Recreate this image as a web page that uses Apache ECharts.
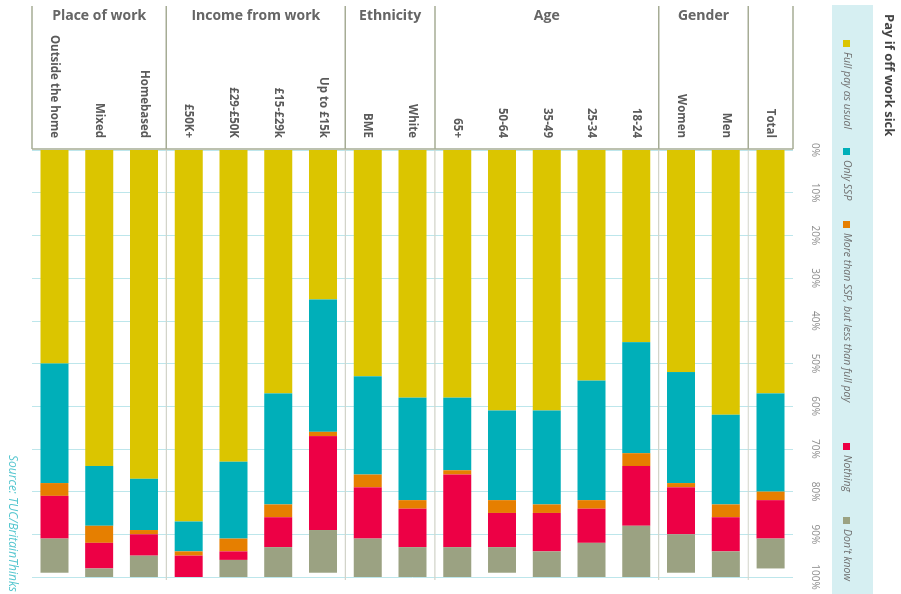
<!DOCTYPE html>
<html lang="en">
<head>
    <meta charset="UTF-8">
    <title>Pay if off work sick</title>
    <script src="https://cdn.jsdelivr.net/npm/echarts@6/dist/echarts.min.js"></script>
    <style>
        html,body{margin:0;padding:0;width:901px;height:594px;overflow:hidden;background:#fff}
        /* the chart is laid out upright (594 x 901) and turned a quarter clockwise */
        #pay{position:absolute;left:0;top:0;width:594px;height:901px;transform-origin:0 0;transform:translate(901px,0) rotate(90deg)}
    </style>
</head>
<body>
    <div id="pay"></div>
    <script>
        // categories from top (Total) to bottom (Outside the home) of the upright chart
        var categories = ['Total','Men','Women','18-24','25-34','35-49','50-64','65+','White','BME',
            'Up to £15k','£15-£29k','£29-£50K','£50K+','Homebased','Mixed','Outside the home'];
        var fullPay     = [57, 62, 52, 45, 54, 61, 61, 58, 58, 53, 35, 57, 73, 87, 77, 74, 50];
        var onlySSP     = [23, 21, 26, 26, 28, 22, 21, 17, 24, 23, 31, 26, 18,  7, 12, 14, 28];
        var moreThanSSP = [ 2,  3,  1,  3,  2,  2,  3,  1,  2,  3,  1,  3,  3,  1,  1,  4,  3];
        var nothing     = [ 9,  8, 11, 14,  8,  9,  8, 17,  9, 12, 22,  7,  2,  5,  5,  6, 10];
        var dontKnow    = [ 7,  6,  9, 12,  8,  6,  6,  7,  7,  9, 10,  7,  4,  0,  5,  2,  8];
        var seriesNames = ['Full pay as usual','Only SSP','More than SSP, but less than full pay','Nothing',"Don't know"];
        var seriesData  = [fullPay, onlySSP, moreThanSSP, nothing, dontKnow];
        var colors      = ['#dbc500','#00afb9','#e67f00','#ed0045','#9ba282'];

        var groupNames = ['Gender','Age','Ethnicity','Income from work','Place of work'];
        var groupFirst = [1, 3, 8, 10, 14];
        var groupLast  = [2, 7, 9, 13, 16];

        var font = "'Open Sans', sans-serif";
        var legendLeft = [35, 143, 216, 438, 512];

        var mychart = echarts.init(document.getElementById('pay'));

        var series = [];
        var legends = [];
        for (var i = 0; i < seriesNames.length; i++) {
            series.push({
                name: seriesNames[i],
                type: 'bar',
                stack: 'pay',
                barWidth: 28,
                data: seriesData[i],
                itemStyle: {color: colors[i]},
                emphasis: {disabled: true}
            });
            legends.push({
                data: [seriesNames[i]],
                left: legendLeft[i],
                top: 44,
                itemWidth: 7,
                itemHeight: 7,
                itemGap: 0,
                icon: 'rect',
                selectedMode: false,
                textStyle: {fontSize: 10.5, fontStyle: 'italic', color: '#6f6f6f', fontFamily: font}
            });
        }

        var option = {
            animation: false,
            textStyle: {fontFamily: font},
            title: {
                text: 'Pay if off work sick',
                left: 9,
                top: 1,
                textStyle: {fontSize: 13, fontWeight: 'bold', color: '#444', fontFamily: font}
            },
            legend: legends,
            grid: {left: 150, right: 17, top: 108, bottom: 32, containLabel: false},
            xAxis: {
                type: 'value',
                position: 'top',
                min: 0,
                max: 100,
                interval: 10,
                axisLine: {show: false},
                axisTick: {show: false},
                axisLabel: {formatter: '{value}%', fontSize: 10, color: '#8c8c8c', margin: 17},
                splitLine: {lineStyle: {color: '#bde6eb', width: 1}}
            },
            yAxis: {
                type: 'category',
                inverse: true,
                data: categories,
                axisLine: {show: false},
                axisTick: {show: false},
                axisLabel: {fontSize: 11.5, fontWeight: 'bold', color: '#5a5a5a', margin: 12}
            },
            series: series
        };
        mychart.setOption(option);

        // header box, group separators and group titles, placed from the axis scales
        var gridLeft = mychart.convertToPixel({xAxisIndex: 0}, 0);
        var gridRight = mychart.convertToPixel({xAxisIndex: 0}, 100);
        var c0 = mychart.convertToPixel({yAxisIndex: 0}, categories[0]);
        var band = mychart.convertToPixel({yAxisIndex: 0}, categories[1]) - c0;
        function edge(idx) { return c0 + (idx - 0.5) * band; }

        var lineColor = '#a6ac95';
        var graphics = [];
        // legend panel
        graphics.push({type: 'rect', z: -10, shape: {x: 5, y: 28, width: 600, height: 41}, style: {fill: '#d6eff2'}});
        // header bottom rule
        graphics.push({type: 'line', shape: {x1: gridLeft - 1, y1: edge(0), x2: gridLeft - 1, y2: edge(categories.length)}, style: {stroke: lineColor, lineWidth: 1.5}});
        var cuts = [0, 1, 3, 8, 10, 14, categories.length];
        for (var k = 0; k < cuts.length; k++) {
            var v = edge(cuts[k]);
            graphics.push({type: 'line', shape: {x1: 6, y1: v, x2: gridLeft - 1, y2: v}, style: {stroke: lineColor, lineWidth: 1.5}});
            if (k > 0 && k < cuts.length - 1) {
                graphics.push({type: 'line', shape: {x1: gridLeft, y1: v, x2: gridRight + 3, y2: v}, style: {stroke: '#d2d4ca', lineWidth: 1.2}});
            }
        }
        for (var g = 0; g < groupNames.length; g++) {
            graphics.push({
                type: 'text',
                x: 16,
                y: (edge(groupFirst[g]) + edge(groupLast[g] + 1)) / 2,
                rotation: Math.PI / 2,
                style: {text: groupNames[g], fontSize: 14, fontWeight: 'bold', fill: '#666', fontFamily: font, align: 'center', verticalAlign: 'middle'}
            });
        }
        graphics.push({
            type: 'text',
            x: 455,
            y: 889,
            style: {text: 'Source: TUC/BritainThinks', fontSize: 12, fontStyle: 'italic', fill: '#55c6cf', fontFamily: font, align: 'left', verticalAlign: 'middle'}
        });
        mychart.setOption({graphic: graphics});
    </script>
</body>
</html>
